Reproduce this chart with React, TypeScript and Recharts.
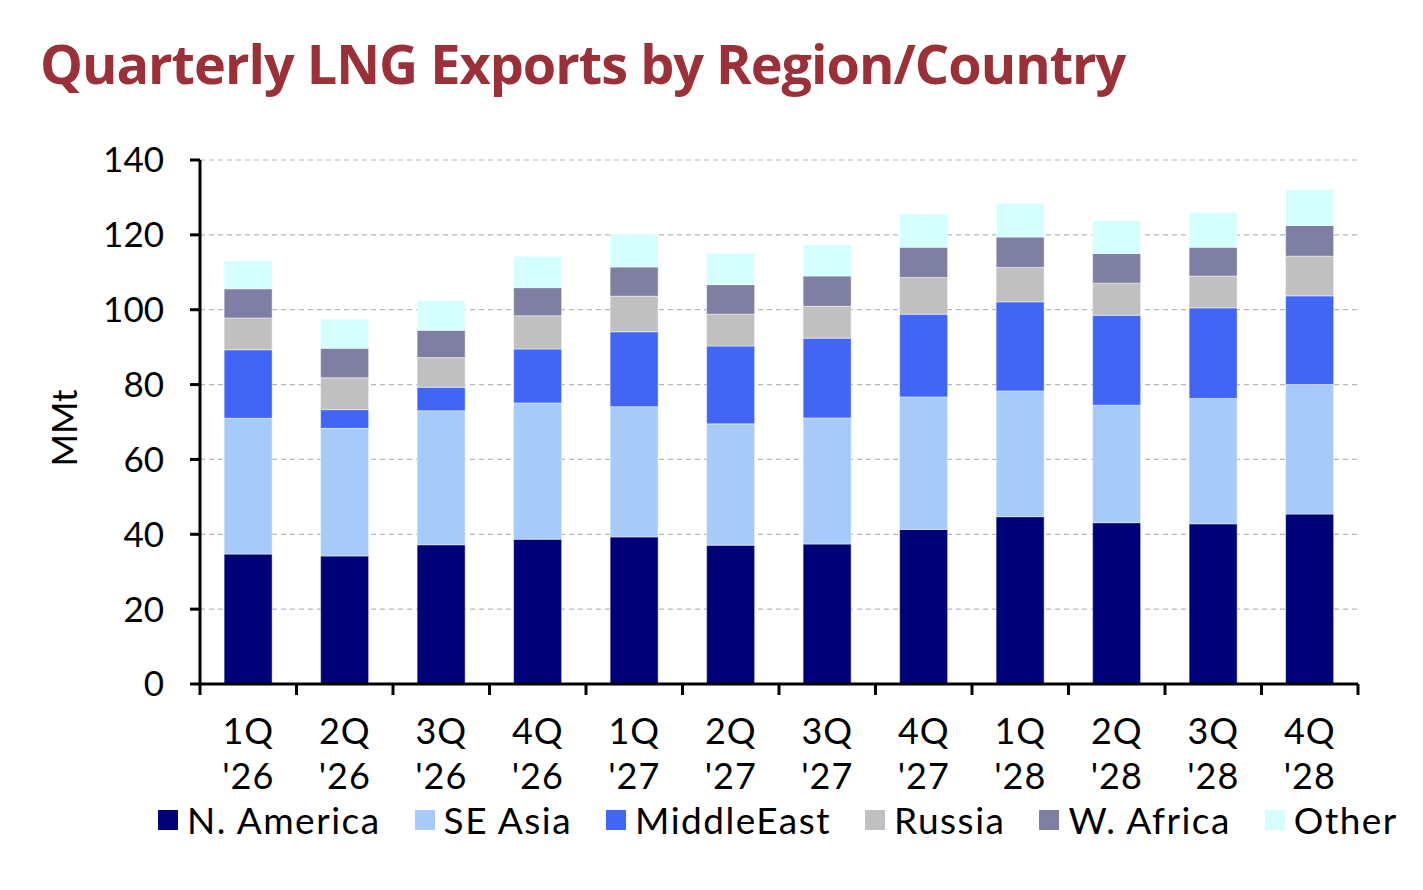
import React from 'react'
import { BarChart, Bar, XAxis, YAxis, CartesianGrid } from 'recharts'

const quarters = ['1Q', '2Q', '3Q', '4Q', '1Q', '2Q', '3Q', '4Q', '1Q', '2Q', '3Q', '4Q']
const years = ["'26", "'26", "'26", "'26", "'27", "'27", "'27", "'27", "'28", "'28", "'28", "'28"]

const nAmerica = [34.7, 34.2, 37.2, 38.7, 39.3, 37.1, 37.4, 41.3, 44.7, 43.1, 42.8, 45.4]
const seAsia = [36.3, 34.1, 35.8, 36.4, 34.8, 32.4, 33.7, 35.4, 33.6, 31.4, 33.5, 34.6]
const middleEast = [18.3, 5.0, 6.3, 14.4, 20.0, 20.8, 21.3, 22.1, 23.8, 24.0, 24.2, 23.7]
const russia = [8.5, 8.5, 7.9, 8.9, 9.5, 8.5, 8.5, 9.8, 9.2, 8.6, 8.5, 10.6]
const wAfrica = [7.8, 7.9, 7.3, 7.5, 7.8, 7.9, 8.1, 8.1, 8.1, 7.9, 7.7, 8.2]
const other = [7.4, 7.8, 7.9, 8.4, 8.8, 8.4, 8.3, 8.9, 9.0, 8.8, 9.3, 9.6]

const yTicks = [0, 20, 40, 60, 80, 100, 120, 140]

const series = [
  { key: 'nAmerica', name: 'N. America', color: '#000078', values: nAmerica },
  { key: 'seAsia', name: 'SE Asia', color: '#a6cbf8', values: seAsia },
  { key: 'middleEast', name: 'MiddleEast', color: '#4166f5', values: middleEast },
  { key: 'russia', name: 'Russia', color: '#c0c0c0', values: russia },
  { key: 'wAfrica', name: 'W. Africa', color: '#7f7fa4', values: wAfrica },
  { key: 'other', name: 'Other', color: '#d5fefe', values: other },
]

const data = quarters.map((q, i) => {
  const row: Record<string, string | number> = { label: `${q}|${years[i]}` }
  series.forEach((s) => {
    row[s.key] = s.values[i]
  })
  return row
})

const FONT = 'Lato, "Open Sans", sans-serif'
const CHART_W = 1400
const CHART_H = 870
const MARGIN = { top: 152, right: 50, bottom: 74, left: 112 }
const Y_AXIS_W = 80
const PLOT_W = CHART_W - MARGIN.left - MARGIN.right - Y_AXIS_W

const XTick = (props: any) => {
  const { x, y, payload, index } = props
  const [q, yr] = String(payload.value).split('|')
  const step = PLOT_W / quarters.length
  return (
    <g>
      <line x1={x - step / 2} x2={x - step / 2} y1={y} y2={y + 11} stroke="#000" strokeWidth={3} />
      {index === quarters.length - 1 && (
        <line x1={x + step / 2} x2={x + step / 2} y1={y} y2={y + 11} stroke="#000" strokeWidth={3} />
      )}
      <text x={x} y={y + 60} textAnchor="middle" fontSize={36} letterSpacing={1} fill="#000" fontFamily={FONT}>
        {q}
      </text>
      <text x={x} y={y + 105} textAnchor="middle" fontSize={36} letterSpacing={1} fill="#000" fontFamily={FONT}>
        {yr}
      </text>
    </g>
  )
}

const YLabel = (props: any) => {
  const { viewBox } = props
  const cx = 55
  const cy = viewBox.y + viewBox.height / 2 + 6
  return (
    <text
      x={cx}
      y={cy}
      transform={`rotate(-90 ${cx} ${cy})`}
      textAnchor="middle"
      dominantBaseline="central"
      fontSize={35}
      fill="#000"
      fontFamily={FONT}
    >
      MMt
    </text>
  )
}

export default function App() {
  return (
    <div style={{ position: 'relative', width: CHART_W, height: CHART_H, fontFamily: FONT, background: '#fff' }}>
      <div
        style={{
          position: 'absolute',
          left: 32,
          top: 28,
          fontFamily: '"Open Sans", sans-serif',
          fontWeight: 700,
          fontSize: 54,
          letterSpacing: -1,
          color: '#9b3038',
          whiteSpace: 'nowrap',
          lineHeight: 1,
        }}
      >
        Quarterly LNG Exports by Region/Country
      </div>
      <BarChart width={CHART_W} height={CHART_H} data={data} margin={MARGIN} barCategoryGap="25%">
        <CartesianGrid vertical={false} stroke="#b8b8b8" strokeDasharray="5 4" strokeWidth={1.2} />
        <XAxis
          dataKey="label"
          height={120}
          interval={0}
          tickSize={0}
          tickMargin={0}
          tick={<XTick />}
          axisLine={{ stroke: '#000', strokeWidth: 3 }}
          tickLine={false}
        />
        <YAxis
          width={Y_AXIS_W}
          domain={[0, 140]}
          ticks={yTicks}
          interval={0}
          tickSize={10}
          tickMargin={26}
          axisLine={{ stroke: '#000', strokeWidth: 3 }}
          tickLine={{ stroke: '#000', strokeWidth: 3 }}
          tick={{ fontSize: 35, fill: '#000', fontFamily: FONT }}
          label={<YLabel />}
        />
        {series.map((s) => (
          <Bar
            key={s.key}
            dataKey={s.key}
            name={s.name}
            stackId="a"
            fill={s.color}
            stroke="rgba(255,255,255,0.45)"
            strokeWidth={1}
            isAnimationActive={false}
          />
        ))}
      </BarChart>
      <div
        style={{
          position: 'absolute',
          left: 150,
          top: 793,
          display: 'flex',
          alignItems: 'center',
          fontSize: 37,
          lineHeight: 1,
          letterSpacing: 1.5,
          fontFamily: FONT,
          color: '#000',
          whiteSpace: 'nowrap',
        }}
      >
        {series.map((s) => (
          <div key={s.key} style={{ display: 'flex', alignItems: 'center', marginRight: 34 }}>
            <span
              style={{
                display: 'inline-block',
                width: 20,
                height: 20,
                background: s.color,
                marginRight: 9,
              }}
            />
            <span>{s.name}</span>
          </div>
        ))}
      </div>
    </div>
  )
}
